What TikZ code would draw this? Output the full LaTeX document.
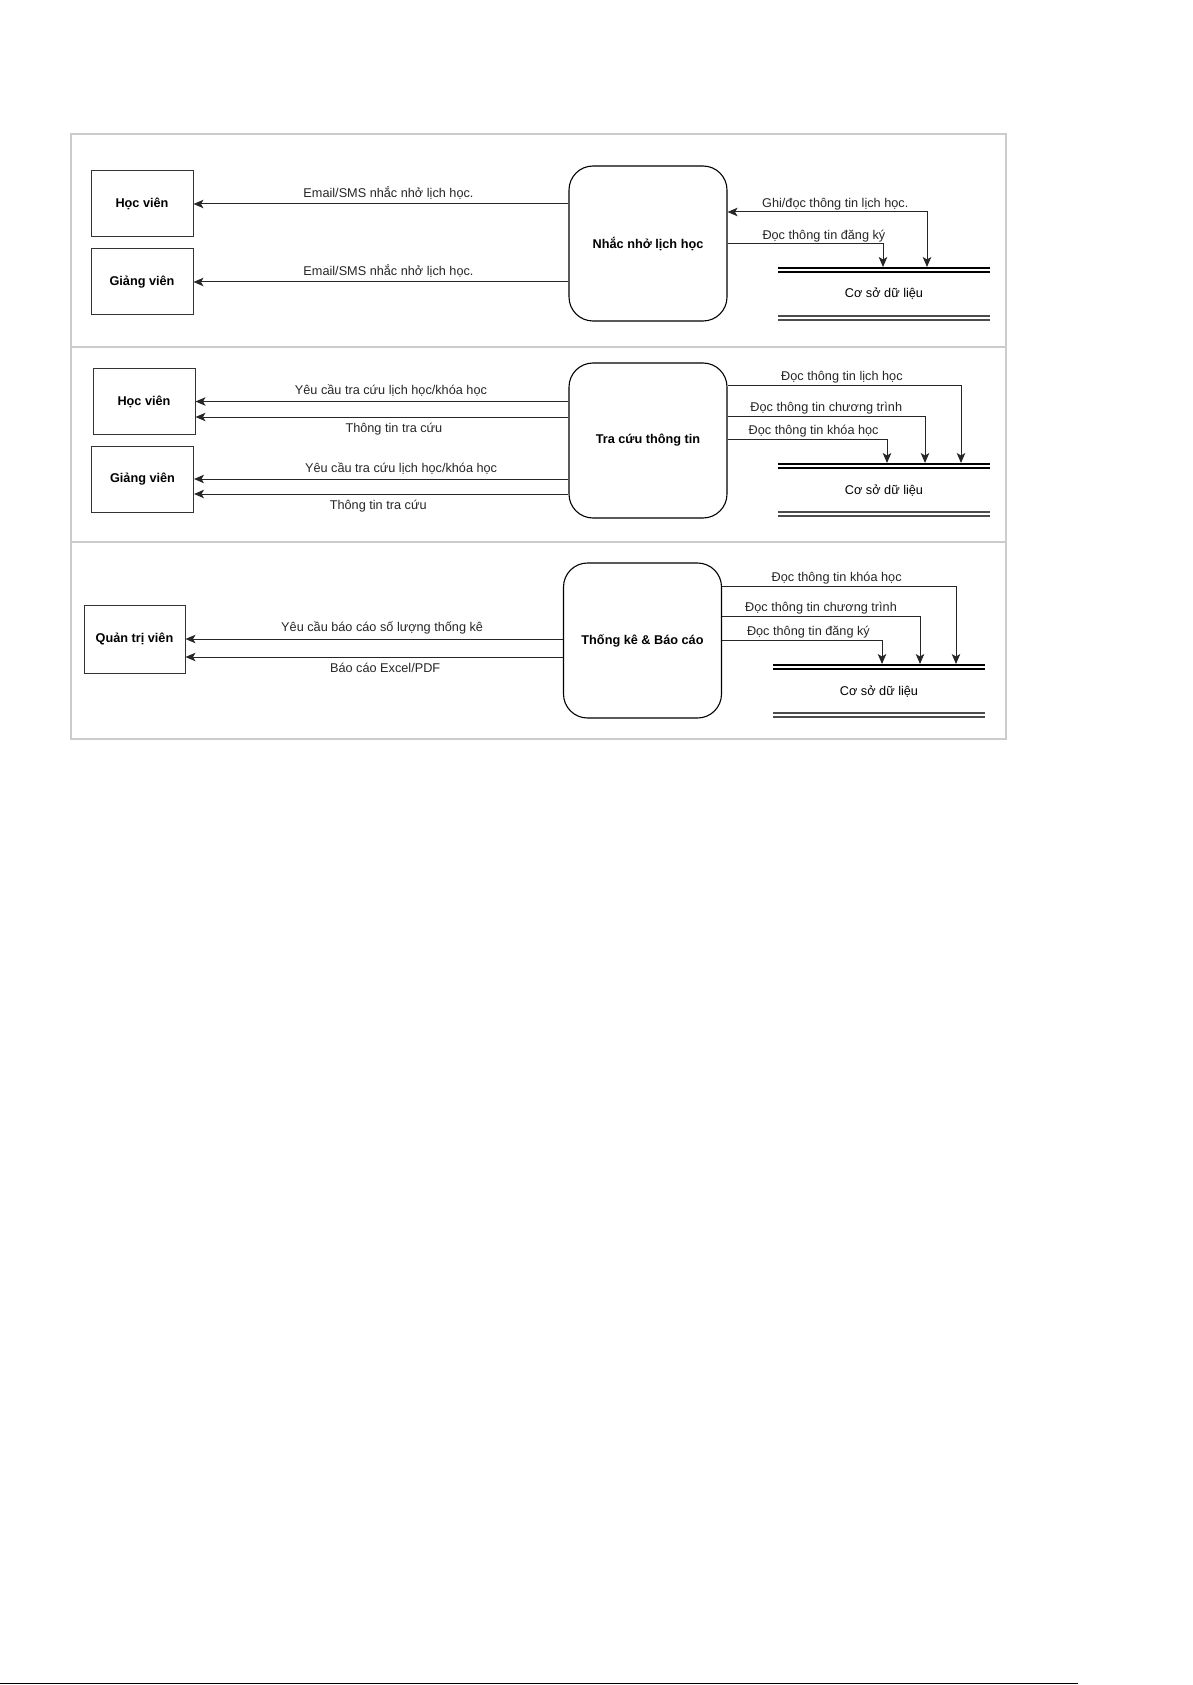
\documentclass[tikz,border=0pt]{standalone}
\usepackage{fontspec}
\setmainfont{Liberation Sans}
\usetikzlibrary{arrows.meta}
\begin{document}
\begin{tikzpicture}[x=1pt, y=-1pt,
font=\fontsize{12.7}{15}\selectfont,
panel/.style={draw=black!20, line width=1.3pt},
entity/.style={rectangle, draw=black!80, line width=1pt, minimum width=102pt, minimum height=66pt, font=\fontsize{12.7}{15}\selectfont\bfseries},
process/.style={rectangle, rounded corners=24pt, draw=black, line width=1.1pt, minimum width=158pt, minimum height=155pt, font=\fontsize{12.7}{15}\selectfont\bfseries},
flow/.style={-{Stealth[length=10pt, width=8.5pt, inset=2.5pt]}, draw=black!85, line width=1pt},
flowboth/.style={flow, {Stealth[length=10pt, width=8.5pt, inset=2.5pt]}-{Stealth[length=10pt, width=8.5pt, inset=2.5pt]}},
storeline/.style={draw=black, line width=1.1pt},
storebase/.style={draw=black!70, line width=1.5pt},
lbl/.style={inner sep=1.5pt, text=black!85},
]
    \useasboundingbox (0,0) rectangle (1192,1685);
    \draw[panel] (71,134) rectangle (1006,347);
    \draw[panel] (71,347) rectangle (1006,542);
    \draw[panel] (71,542) rectangle (1006,739);

    \node[entity] (hv1) at (142,204) {Học viên};
    \node[entity] (gv1) at (142,282) {Giảng viên};
    \node[process] (nn) at (648,243.5) {Nhắc nhở lịch học};
    \node (db1) at (884,294) {Cơ sở dữ liệu};
    \draw[storeline] (778,268) -- (990,268) (778,272) -- (990,272);
    \draw[storebase] (778,316) -- (990,316) (778,320) -- (990,320);
    \coordinate (db1a) at (883,267);
    \coordinate (db1b) at (927,267);
    \draw[flow] (nn.west |- hv1.east) -- node[lbl, pos=0.48, above=3pt] (m1) {Email/SMS nhắc nhở lịch học.} (hv1.east);
    \draw[flow] (nn.west |- gv1.east) -- node[lbl, pos=0.48, above=3pt] (m2) {Email/SMS nhắc nhở lịch học.} (gv1.east);
    \draw[flowboth] (nn.east |- 0,212) -| node[lbl, pos=0.27, above] (m3) {Ghi/đọc thông tin lịch học.} (db1b);
    \draw[flow] (nn.east |- 0,244) -| node[lbl, pos=0.31, above] (m4) {Đọc thông tin đăng ký} (db1a);

    \node[entity] (hv2) at (144,401.5) {Học viên};
    \node[entity] (gv2) at (142.5,479) {Giảng viên};
    \node[process] (tc) at (648,440.5) {Tra cứu thông tin};
    \node (db2) at (884,491) {Cơ sở dữ liệu};
    \draw[storeline] (778,464) -- (990,464) (778,468) -- (990,468);
    \draw[storebase] (778,512) -- (990,512) (778,516) -- (990,516);
    \coordinate (db2a) at (887,463);
    \coordinate (db2b) at (925,463);
    \coordinate (db2c) at (961,463);
    \draw[flow] (tc.west |- hv2.east) -- node[lbl, pos=0.476, above=3pt] (t1) {Yêu cầu tra cứu lịch học/khóa học} (hv2.east);
    \draw[flow] (tc.west |- 0,417) -- node[lbl, pos=0.468, below=4pt] (t2) {Thông tin tra cứu} (hv2.east |- 0,417);
    \draw[flow] (tc.west |- gv2.east) -- node[lbl, pos=0.447, above=3pt] (t3) {Yêu cầu tra cứu lịch học/khóa học} (gv2.east);
    \draw[flow] (tc.west |- 0,494) -- node[lbl, pos=0.508, below=4pt] (t4) {Thông tin tra cứu} (gv2.east |- 0,494);
    \draw[flow] (tc.east |- 0,385) -| node[lbl, pos=0.245, above] (t5) {Đọc thông tin lịch học} (db2c);
    \draw[flow] (tc.east |- 0,416) -| node[lbl, pos=0.25, above] (t6) {Đọc thông tin chương trình} (db2b);
    \draw[flow] (tc.east |- 0,439) -| node[lbl, pos=0.27, above] (t7) {Đọc thông tin khóa học} (db2a);

    \node[entity, minimum width=101pt, minimum height=68pt] (qt) at (134.5,639) {Quản trị viên};
    \node[process] (tk) at (642.5,640.5) {Thống kê \& Báo cáo};
    \node (db3) at (879,692) {Cơ sở dữ liệu};
    \draw[storeline] (773,665) -- (985,665) (773,669) -- (985,669);
    \draw[storebase] (773,713) -- (985,713) (773,717) -- (985,717);
    \coordinate (db3a) at (882,664);
    \coordinate (db3b) at (920,664);
    \coordinate (db3c) at (956,664);
    \draw[flow] (tk.west |- qt.east) -- node[lbl, pos=0.479, above=3pt] (b1) {Yêu cầu báo cáo số lượng thống kê} (qt.east);
    \draw[flow] (tk.west |- 0,657) -- node[lbl, pos=0.471, below=4pt] (b2) {Báo cáo Excel/PDF} (qt.east |- 0,657);
    \draw[flow] (tk.east |- 0,586) -| node[lbl, pos=0.245, above] (b3) {Đọc thông tin khóa học} (db3c);
    \draw[flow] (tk.east |- 0,616) -| node[lbl, pos=0.25, above] (b4) {Đọc thông tin chương trình} (db3b);
    \draw[flow] (tk.east |- 0,640) -| node[lbl, pos=0.27, above] (b5) {Đọc thông tin đăng ký} (db3a);

    \draw[line width=1.5pt] (0,1683.5) -- (1078,1683.5);
\end{tikzpicture}
\end{document}
